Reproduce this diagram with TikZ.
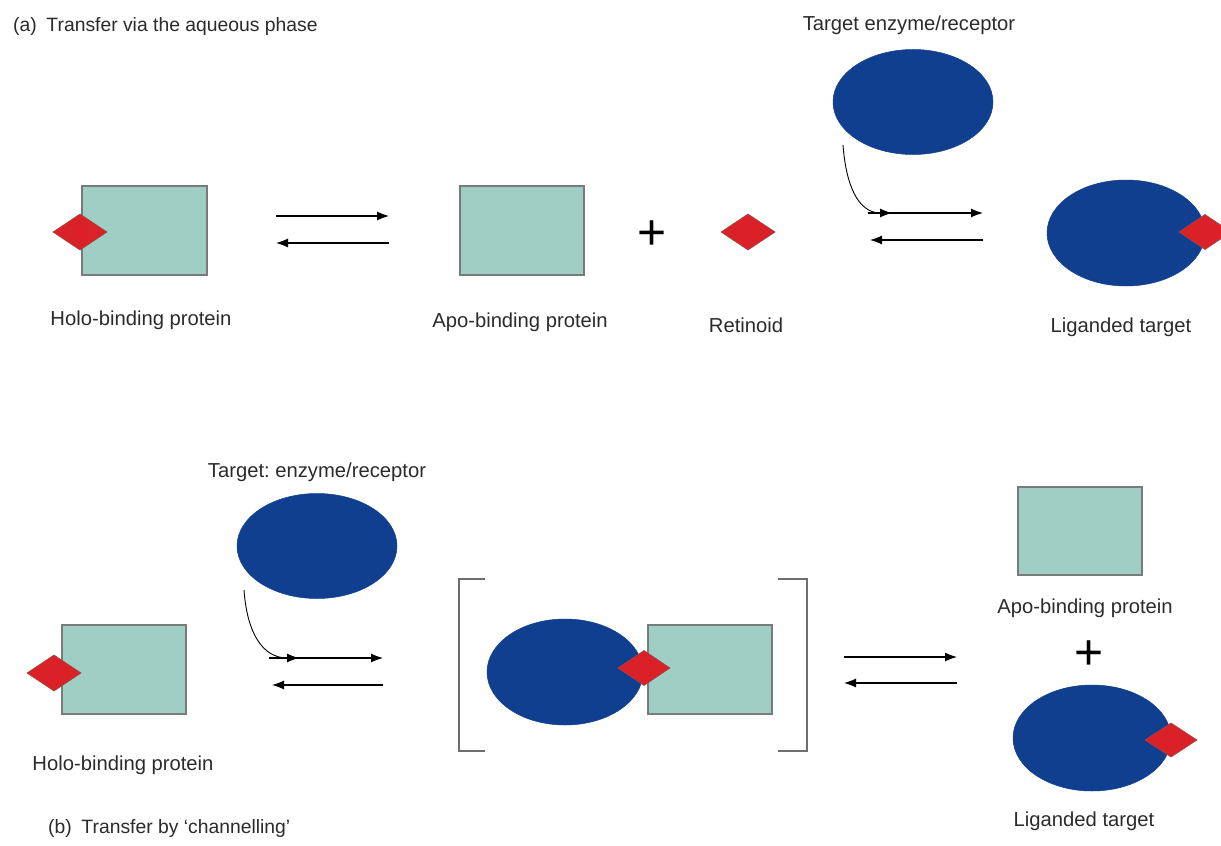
\documentclass[tikz,border=0pt]{standalone}
\usepackage{fontspec}
\setmainfont{Liberation Sans}
\usetikzlibrary{shapes.geometric,arrows.meta}
\definecolor{tealfill}{HTML}{9FCEC4}
\definecolor{tealline}{HTML}{7A7A7A}
\definecolor{bluefill}{HTML}{0F3F8E}
\definecolor{redfill}{HTML}{DA2128}
\definecolor{redline}{HTML}{9A4A48}
\definecolor{txtcol}{HTML}{2B2B2B}
\definecolor{brackcol}{HTML}{6E6E6E}
\frenchspacing
\tikzset{
  protbox/.style={draw=tealline, fill=tealfill, line width=1.2bp, rectangle, minimum width=124bp, minimum height=89bp, inner sep=0pt, outer sep=0pt},
  target/.style={draw=bluefill, fill=bluefill, ellipse, line width=0.5bp, minimum width=160bp, minimum height=105bp, inner sep=0pt, outer sep=0pt},
  retin/.style={draw=redline, fill=redfill, diamond, line width=0.6bp, minimum width=54bp, minimum height=36bp, inner sep=0pt, outer sep=0pt},
  lbl/.style={anchor=base, text=txtcol, font=\fontsize{20.3}{24}\selectfont, inner sep=0pt},
  caplbl/.style={anchor=base west, text=txtcol, font=\fontsize{19.4}{23}\selectfont, inner sep=0pt},
  plussign/.style={text=black, font=\fontsize{50}{56}\selectfont, inner sep=0pt},
  rxn/.style={line width=1.1bp, -{Latex[length=12bp,width=9bp]}},
  feed/.style={line width=0.9bp, -{Latex[length=12bp,width=9bp]}},
  brack/.style={draw=brackcol, line width=1.8bp}
}
\begin{document}
\begin{tikzpicture}[x=1bp,y=-1bp]
\useasboundingbox (0,0) rectangle (1221,846);
\fill[white] (0,0) rectangle (1221,846);

% ---------- (a) ----------
\node[caplbl] (capA) at (13,31) {(a)\hspace{0.5em}Transfer via the aqueous phase};

\node[protbox, minimum width=125bp] (holoA) at (144.5,230.5) {};
\node[retin] (retHoloA) at (80,232) {};
\node[lbl] (holoAlbl) at (141,325) {Holo-binding protein};

\coordinate (a1s) at (276,216); \coordinate (a1e) at (389,216);
\coordinate (a2s) at (389,243); \coordinate (a2e) at (276,243);
\draw[rxn] (a1s) -- (a1e);
\draw[rxn] (a2s) -- (a2e);

\node[protbox] (apoA) at (522,230.5) {};
\node[lbl] (apoAlbl) at (520,327) {Apo-binding protein};

\node[plussign] (plusA) at (652,235) {+};

\node[retin] (retA) at (748,232) {};
\node[lbl] (retAlbl) at (746,332) {Retinoid};

\node[lbl] (tgtAlbl) at (909,30) {Target enzyme/receptor};
\node[target] (tgtA) at (913,102) {};

\coordinate (cA) at (843,145);
\coordinate (a3s) at (868,213); \coordinate (a3e) at (983,213);
\coordinate (a3m) at (892,213);
\coordinate (a4s) at (983,240); \coordinate (a4e) at (870,240);
\draw[feed] (cA) .. controls (846,185) and (858,213) .. (a3m);
\draw[rxn] (a3s) -- (a3e);
\draw[rxn] (a4s) -- (a4e);

\node[target, minimum width=158bp, minimum height=106bp] (ligA) at (1126,233) {};
\node[retin, minimum width=52bp, minimum height=35bp] (retLigA) at (1205,232) {};
\node[lbl] (ligAlbl) at (1121,332) {Liganded target};

% ---------- (b) ----------
\node[lbl] (tgtBlbl) at (317,477) {Target: enzyme/receptor};
\node[target] (tgtB) at (317,546) {};

\node[protbox] (holoB) at (124,669.5) {};
\node[retin] (retHoloB) at (54,673) {};
\node[lbl] (holoBlbl) at (123,770) {Holo-binding protein};

\coordinate (cB) at (244,590);
\coordinate (b1s) at (269,658); \coordinate (b1e) at (383,658);
\coordinate (b1m) at (299,658);
\coordinate (b2s) at (383,685); \coordinate (b2e) at (272,685);
\draw[feed] (cB) .. controls (247,632) and (262,658) .. (b1m);
\draw[rxn] (b1s) -- (b1e);
\draw[rxn] (b2s) -- (b2e);

% complex in brackets
\coordinate (lbt) at (485,579); \coordinate (lbb) at (485,751);
\coordinate (rbt) at (778,579); \coordinate (rbb) at (778,751);
\draw[brack] (lbt) -- (459,579) -- (459,751) -- (lbb);
\draw[brack] (rbt) -- (807,579) -- (807,751) -- (rbb);

\node[target, minimum width=156bp, minimum height=106bp] (cplxT) at (565,672) {};
\node[protbox] (cplxP) at (710,669.5) {};
\node[retin, minimum width=52bp, minimum height=35bp] (cplxR) at (644,668) {};

\coordinate (b3s) at (844,657); \coordinate (b3e) at (957,657);
\coordinate (b4s) at (957,683); \coordinate (b4e) at (844,683);
\draw[rxn] (b3s) -- (b3e);
\draw[rxn] (b4s) -- (b4e);

\node[protbox, minimum height=88bp] (apoB) at (1080,531) {};
\node[lbl] (apoBlbl) at (1085,613) {Apo-binding protein};
\node[plussign] (plusB) at (1089,655) {+};

\node[target, minimum width=158bp, minimum height=106bp] (ligB) at (1092,738) {};
\node[retin, minimum width=52bp, minimum height=34bp] (retLigB) at (1171,740) {};
\node[lbl] (ligBlbl) at (1084,826) {Liganded target};

\node[caplbl] (capB) at (48,833) {(b)\hspace{0.5em}Transfer by ‘channelling’};
\end{tikzpicture}
\end{document}
